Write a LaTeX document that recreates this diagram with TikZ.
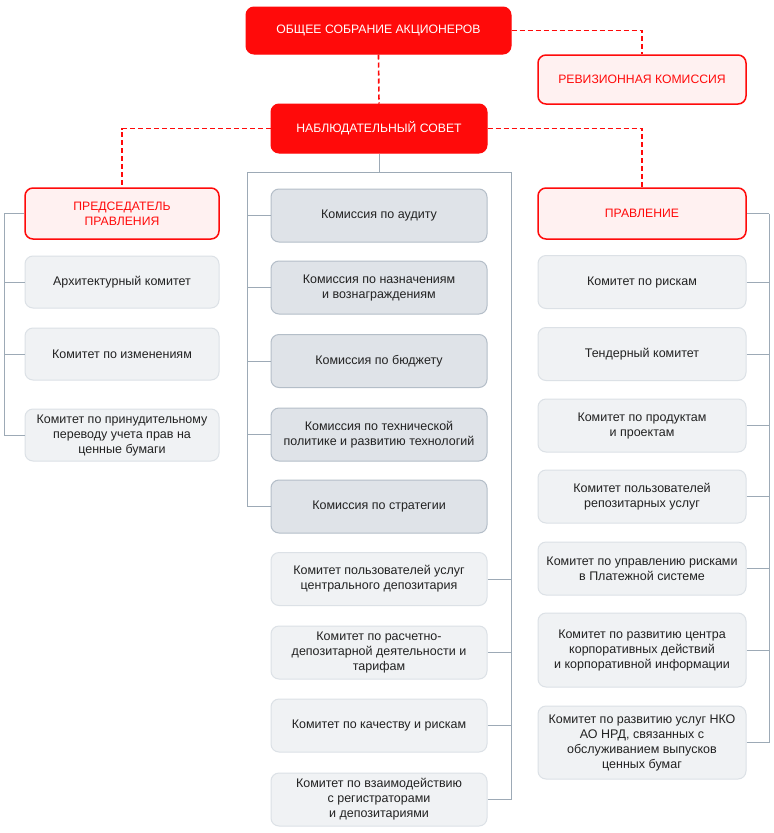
\documentclass[tikz,border=0pt]{standalone}
\usepackage{fontspec}
\setmainfont{Liberation Sans}
\definecolor{nrdred}{HTML}{FF0A0A}
\definecolor{pinkfill}{HTML}{FFF1F1}
\definecolor{lgfill}{HTML}{F0F2F4}
\definecolor{lgline}{HTML}{DCE1E6}
\definecolor{dgfill}{HTML}{DFE3E8}
\definecolor{dgline}{HTML}{B4BEC8}
\definecolor{conn}{HTML}{9DAAB6}
\definecolor{txt}{HTML}{222222}
\begin{document}
\begin{tikzpicture}[x=1pt,y=-1pt,
  base/.style={rounded corners=8pt, align=center, inner sep=2pt, font=\fontsize{12.5}{15}\selectfont},
  redbox/.style={base, fill=nrdred, draw=nrdred, text=white, line width=1pt, font=\fontsize{12.2}{15}\selectfont},
  pinkbox/.style={base, fill=pinkfill, draw=nrdred, text=nrdred, line width=1.5pt, font=\fontsize{12.2}{15}\selectfont},
  lightbox/.style={base, fill=lgfill, draw=lgline, text=txt, line width=1pt},
  darkbox/.style={base, fill=dgfill, draw=dgline, text=txt, line width=1pt},
  reddash/.style={draw=nrdred, line width=1.6pt, dash pattern=on 5pt off 3pt},
  link/.style={draw=conn, line width=1pt}]
\useasboundingbox (0,0) rectangle (774,833);
\fill[white] (0,0) rectangle (774,833);
% top level
\node[redbox, minimum width=265pt, minimum height=47pt] (gsa) at (378.5,30.5) {ОБЩЕЕ СОБРАНИЕ АКЦИОНЕРОВ};
\node[pinkbox, minimum width=208pt, minimum height=49pt] (rev) at (642,79.5) {РЕВИЗИОННАЯ КОМИССИЯ};
\node[redbox, minimum width=216pt, minimum height=49pt] (ns) at (379,128.5) {НАБЛЮДАТЕЛЬНЫЙ СОВЕТ};
\node[pinkbox, minimum width=194pt, minimum height=51pt] (pred) at (122,213.5) {ПРЕДСЕДАТЕЛЬ\\ПРАВЛЕНИЯ};
\node[pinkbox, minimum width=208pt, minimum height=51pt] (prav) at (642,213.5) {ПРАВЛЕНИЕ};
% left column
\node[lightbox, minimum width=194pt, minimum height=52pt] (l1) at (122,282) {Архитектурный комитет};
\node[lightbox, minimum width=194pt, minimum height=52pt] (l2) at (122,354) {Комитет по изменениям};
\node[lightbox, minimum width=194pt, minimum height=52pt] (l3) at (122,435) {Комитет по принудительному\\переводу учета прав на\\ценные бумаги};
% center column
\node[darkbox, minimum width=216pt, minimum height=53pt] (c1) at (379,215.5) {Комиссия по аудиту};
\node[darkbox, minimum width=216pt, minimum height=53pt] (c2) at (379,287.5) {Комиссия по назначениям\\и вознаграждениям};
\node[darkbox, minimum width=216pt, minimum height=53pt] (c3) at (379,361) {Комиссия по бюджету};
\node[darkbox, minimum width=216pt, minimum height=53pt] (c4) at (379,434.5) {Комиссия по технической\\политике и развитию технологий};
\node[darkbox, minimum width=216pt, minimum height=53pt] (c5) at (379,506.5) {Комиссия по стратегии};
\node[lightbox, minimum width=216pt, minimum height=53pt] (c6) at (379,579) {Комитет пользователей услуг\\центрального депозитария};
\node[lightbox, minimum width=216pt, minimum height=53pt] (c7) at (379,652.5) {Комитет по расчетно-\\депозитарной деятельности и\\тарифам};
\node[lightbox, minimum width=216pt, minimum height=53pt] (c8) at (379,725.5) {Комитет по качеству и рискам};
\node[lightbox, minimum width=216pt, minimum height=53pt] (c9) at (379,799.5) {Комитет по взаимодействию\\с регистраторами\\и депозитариями};
% right column
\node[lightbox, minimum width=208pt, minimum height=53pt] (r1) at (642,282) {Комитет по рискам};
\node[lightbox, minimum width=208pt, minimum height=53pt] (r2) at (642,354) {Тендерный комитет};
\node[lightbox, minimum width=208pt, minimum height=53pt] (r3) at (642,425.5) {Комитет по продуктам\\и проектам};
\node[lightbox, minimum width=208pt, minimum height=53pt] (r4) at (642,496.5) {Комитет пользователей\\репозитарных услуг};
\node[lightbox, minimum width=208pt, minimum height=53pt] (r5) at (642,568.5) {Комитет по управлению рисками\\в Платежной системе};
\node[lightbox, minimum width=208pt, minimum height=74pt] (r6) at (642,650) {Комитет по развитию центра\\корпоративных действий\\и корпоративной информации};
\node[lightbox, minimum width=208pt, minimum height=73pt] (r7) at (642,742.5) {Комитет по развитию услуг НКО\\АО НРД, связанных с\\обслуживанием выпусков\\ценных бумаг};
% red dashed links
\draw[reddash] (gsa.south) -- (ns.north);
\draw[reddash] (gsa.east) -| (rev.north);
\draw[reddash] (ns.west) -| (pred.north);
\draw[reddash] (ns.east) -| (prav.north);
% left bus
\coordinate (lbt) at (4,213.5);
\coordinate (lbb) at (4,435);
\draw[link] (lbt) -- (lbb);
\foreach \n in {pred,l1,l2,l3} \draw[link] (\n.west) -- (\n.west -| lbt);
% right bus
\coordinate (rbt) at (769,213.5);
\coordinate (rbb) at (769,742.5);
\draw[link] (rbt) -- (rbb);
\foreach \n in {prav,r1,r2,r3,r4,r5,r6,r7} \draw[link] (\n.east) -- (\n.east -| rbt);
% center frame
\coordinate (cj) at (379,172);
\coordinate (cl) at (247,172);
\coordinate (cr) at (511,172);
\draw[link] (ns.south) -- (cj);
\draw[link] (cl) -- (cr);
\draw[link] (cl) -- (cl |- c5.west);
\draw[link] (cr) -- (cr |- c9.east);
\foreach \n in {c1,c2,c3,c4,c5} \draw[link] (\n.west) -- (\n.west -| cl);
\foreach \n in {c6,c7,c8,c9} \draw[link] (\n.east) -- (\n.east -| cr);
\end{tikzpicture}
\end{document}
